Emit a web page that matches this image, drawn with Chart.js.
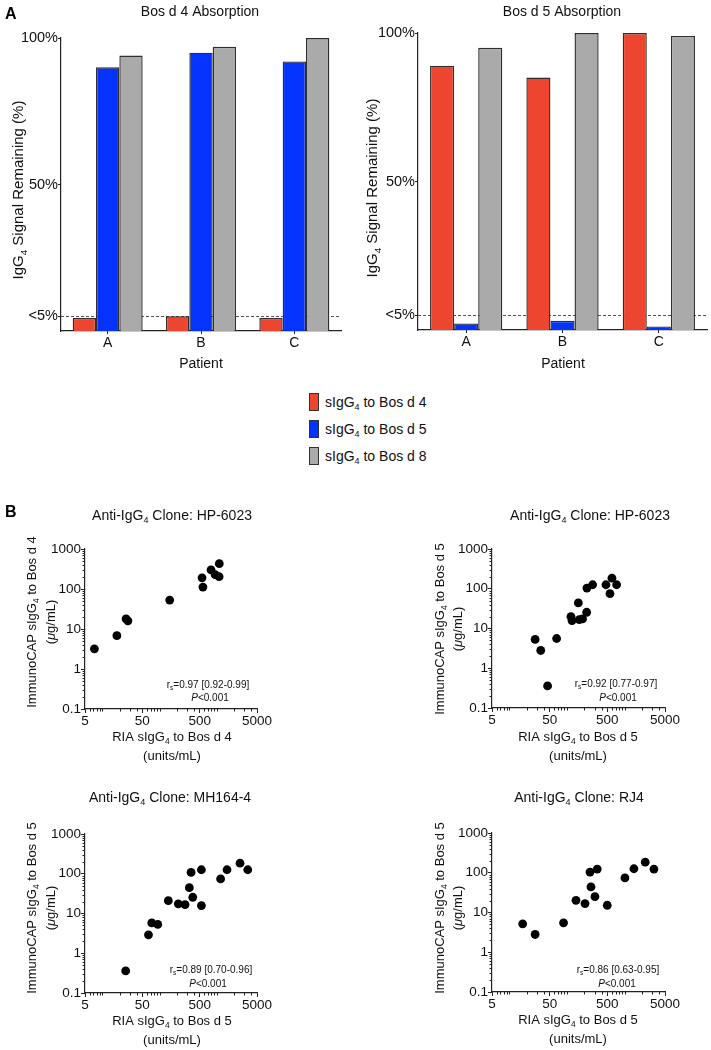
<!DOCTYPE html>
<html><head><meta charset="utf-8">
<script src="https://cdn.jsdelivr.net/npm/chart.js"></script>
<style>
html,body{margin:0;padding:0;background:#fff}
body{width:711px;height:1050px;position:relative;overflow:hidden;font-family:"Liberation Sans",Arial,Helvetica,sans-serif}
canvas{position:absolute}
#legend{position:absolute;left:309px;top:393px}
.lrow{position:relative;height:27px;width:200px}
.lbox{position:absolute;left:0;top:0;width:10px;height:18px;border:1px solid #333;box-sizing:border-box}
.ltxt{position:absolute;left:16px;top:0;font-size:14px;line-height:18px;white-space:nowrap;color:#111}
.ltxt sub{font-size:9px;vertical-align:-3px;line-height:0}
</style></head>
<body>
<canvas id="barA" width="355" height="375" style="left:0;top:0"></canvas>
<canvas id="barB" width="356" height="375" style="left:355px;top:0"></canvas>
<div id="legend"></div>
<canvas id="sc1" width="355" height="275" style="left:0;top:500px"></canvas>
<canvas id="sc2" width="356" height="275" style="left:355px;top:500px"></canvas>
<canvas id="sc3" width="355" height="270" style="left:0;top:780px"></canvas>
<canvas id="sc4" width="356" height="270" style="left:355px;top:780px"></canvas>
<script>
// ---------------- DATA ----------------
const patients = ['A', 'B', 'C'];
const seriesLabels = ['sIgG{4} to Bos d 4', 'sIgG{4} to Bos d 5', 'sIgG{4} to Bos d 8'];
const barYTicks = [5, 50, 100];

// Panel A-left: Bos d 4 absorption (% signal remaining)
const absD4_toBosd4 = [4.4, 5, 4.4];
const absD4_toBosd5 = [90, 95, 92];
const absD4_toBosd8 = [94, 97, 100];
// Panel A-right: Bos d 5 absorption
const absD5_toBosd4 = [89, 85, 100];
const absD5_toBosd5 = [2.2, 3.1, 1.2];
const absD5_toBosd8 = [95, 100, 99];

const scXTicks = [5, 50, 500, 5000];
const scYTicks = [0.1, 1, 10, 100, 1000];

// Panel B1: HP-6023, Bos d 4
const hp_d4_ria = [7.3, 18, 26, 28, 150, 550, 570, 790, 930, 1100, 1090];
const hp_d4_cap = [3.2, 6.8, 18, 16, 53, 190, 112, 300, 228, 430, 203];
// Panel B2: HP-6023, Bos d 5
const hp_d5_ria = [28, 35, 46, 66, 117, 122, 157, 163, 186, 221, 219, 278, 473, 555, 601, 725];
const hp_d5_cap = [5.3, 2.8, 0.36, 5.6, 20, 15.8, 44, 16.8, 17.4, 104, 25.6, 126, 126, 75, 185, 126];
// Panel B3: MH164-4, Bos d 5
const mh_d5_ria = [25.6, 64, 73, 93, 142, 212, 278, 330, 354, 379, 536, 536, 1160, 1500, 2530, 3450];
const mh_d5_cap = [0.36, 2.9, 5.8, 5.3, 21, 17.5, 16.8, 44.7, 108, 25.6, 126, 15.8, 74, 126, 185, 126];
// Panel B4: RJ4, Bos d 5
const rj_d5_ria = [17, 28, 87, 143, 205, 250, 260, 305, 334, 498, 1010, 1445, 2270, 3215];
const rj_d5_cap = [5.2, 2.8, 5.5, 20.3, 16.8, 104, 44, 25, 124, 15.2, 74, 126, 185, 124];

// ---------------- STYLE ----------------
const FAM = '"Liberation Sans", Arial, Helvetica, sans-serif';
const RED = '#EC4530', BLUE = '#0433FF', GREY = '#AAAAAA';
const seriesColors = [RED, BLUE, GREY];
const AXIS = '#222', TXT = '#111';

function parseRich(s){
  const out=[]; const re=/\{([^}]*)\}|\*([^*]*)\*|([^{*]+)/g; let m;
  while((m=re.exec(s))){
    if(m[1]!==undefined) out.push({t:m[1],sub:true});
    else if(m[2]!==undefined) out.push({t:m[2],it:true});
    else out.push({t:m[3]});
  }
  return out;
}
function drawRich(ctx, it){
  const size = it.size, parts = parseRich(it.s);
  const fontFor = p => (p.it?'italic ':'') + (it.bold?'bold ':'') + (p.sub? size*0.65 : size) + 'px ' + FAM;
  ctx.save();
  ctx.translate(it.x, it.y);
  if (it.rot) ctx.rotate(-Math.PI/2);
  let w = 0;
  parts.forEach(p => { ctx.font = fontFor(p); p.w = ctx.measureText(p.t).width; w += p.w; });
  let cx = it.align==='left' ? 0 : (it.align==='right' ? -w : -w/2);
  ctx.textAlign='left'; ctx.textBaseline='alphabetic'; ctx.fillStyle = it.color || TXT;
  const base = size*0.36;
  parts.forEach(p => { ctx.font = fontFor(p); ctx.fillText(p.t, cx, base + (p.sub ? size*0.22 : 0)); cx += p.w; });
  ctx.restore();
}
function textPlugin(items){
  return { id:'richText', afterDraw(chart){ items.forEach(it => drawRich(chart.ctx, it)); } };
}
const dashPlugin = {
  id:'dash5',
  beforeDatasetsDraw(chart){
    const ctx=chart.ctx, a=chart.chartArea, y=Math.round(chart.scales.y.getPixelForValue(5))+0.5;
    ctx.save(); ctx.strokeStyle='#555'; ctx.lineWidth=1; ctx.setLineDash([3,2]);
    ctx.beginPath(); ctx.moveTo(a.left, y); ctx.lineTo(a.right, y); ctx.stroke(); ctx.restore();
  }
};
const minorTicks = {
  id:'minorTicks',
  afterDraw(chart){
    const ctx=chart.ctx; ctx.save(); ctx.strokeStyle=AXIS; ctx.lineWidth=1;
    ['x','y'].forEach(id=>{
      const s=chart.scales[id]; const majors=s.ticks.map(t=>t.value);
      for(let n=Math.floor(Math.log10(s.min)); n<=Math.ceil(Math.log10(s.max)); n++){
        for(let k=1;k<10;k++){
          const v=k*Math.pow(10,n);
          if(v<s.min*0.999||v>s.max*1.001) continue;
          if(majors.some(m=>Math.abs(m-v)/m<1e-6)) continue;
          const p=Math.round(s.getPixelForValue(v))+0.5;
          ctx.beginPath();
          if(id==='x'){ ctx.moveTo(p, s.top); ctx.lineTo(p, s.top+2.5); }
          else { ctx.moveTo(s.right, p); ctx.lineTo(s.right-2.5, p); }
          ctx.stroke();
        }
      }
    });
    ctx.restore();
  }
};

function axisCommon(tickLen){
  return {
    grid:{display:true, drawOnChartArea:false, drawTicks:true, tickLength:tickLen, color:AXIS, tickColor:AXIS, lineWidth:1, offset:false},
    border:{display:true, color:AXIS, width:1.2}
  };
}

function barChart(id, W, H, area, vals, texts){
  const YW=40, XH=25;
  const datasets = vals.map((d,i)=>({
    label: seriesLabels[i], data: d, backgroundColor: seriesColors[i],
    borderColor:'#2e2e2e', borderWidth:1.4, categoryPercentage:0.75, barPercentage:1.0
  }));
  return new Chart(document.getElementById(id), {
    type:'bar',
    data:{labels:patients, datasets},
    options:{
      responsive:false, animation:false, events:[],
      layout:{padding:{left:area.l-YW, top:area.t, right:W-area.r, bottom:H-area.b-XH}},
      plugins:{legend:{display:false}, tooltip:{enabled:false}, title:{display:false}},
      scales:{
        x:{...axisCommon(3),
           ticks:{font:{family:FAM,size:14}, color:TXT, padding:1, maxRotation:0},
           afterFit(s){ s.height=XH; }},
        y:{...axisCommon(3), min:0, max:100,
           afterBuildTicks(s){ s.ticks = barYTicks.map(v=>({value:v})); },
           ticks:{font:{family:FAM,size:14.5}, color:TXT, padding:0, callback:v=> v===5 ? '<5%' : v+'%'},
           afterFit(s){ s.width=YW; }}
      }
    },
    plugins:[dashPlugin, textPlugin(texts)]
  });
}

function scatterChart(id, W, H, area, xs, ys, texts){
  const YW=40, XH=22;
  return new Chart(document.getElementById(id), {
    type:'scatter',
    data:{datasets:[{data: xs.map((x,i)=>({x, y:ys[i]})), backgroundColor:'#000', borderColor:'#000',
                     pointRadius:4.4, pointBorderWidth:0}]},
    options:{
      responsive:false, animation:false, events:[],
      layout:{padding:{left:area.l-YW, top:area.t, right:W-area.r, bottom:H-area.b-XH}},
      plugins:{legend:{display:false}, tooltip:{enabled:false}},
      scales:{
        x:{type:'logarithmic', min:5, max:5000, ...axisCommon(4),
           afterBuildTicks(s){ s.ticks = scXTicks.map(v=>({value:v, major:true})); },
           ticks:{font:{family:FAM,size:13.5}, color:TXT, padding:0, autoSkip:false, maxRotation:0, minRotation:0, callback:v=>String(v)},
           afterFit(s){ s.height=XH; }},
        y:{type:'logarithmic', min:0.1, max:1000, ...axisCommon(4),
           afterBuildTicks(s){ s.ticks = scYTicks.map(v=>({value:v, major:true})); },
           ticks:{font:{family:FAM,size:13.5}, color:TXT, padding:0, autoSkip:false, callback:v=>String(v)},
           afterFit(s){ s.width=YW; }}
      }
    },
    plugins:[minorTicks, textPlugin(texts)]
  });
}

// ---------------- BUILD ----------------
barChart('barA', 355, 375, {l:61, t:38, r:341, b:331},
  [absD4_toBosd4, absD4_toBosd5, absD4_toBosd8],
  [
    {s:'A', x:5, y:13.5, size:16, bold:true, align:'left', color:'#000'},
    {s:'Bos d 4 Absorption', x:200, y:11, size:14},
    {s:'IgG{4} Signal Remaining (%)', x:18, y:190, size:15, rot:true},
    {s:'Patient', x:201, y:363, size:14}
  ]);
barChart('barB', 356, 375, {l:63, t:33, r:352, b:330},
  [absD5_toBosd4, absD5_toBosd5, absD5_toBosd8],
  [
    {s:'Bos d 5 Absorption', x:207, y:11, size:14},
    {s:'IgG{4} Signal Remaining (%)', x:17, y:188, size:15, rot:true},
    {s:'Patient', x:208, y:363, size:14}
  ]);

// legend built from the series arrays
const legendEl = document.getElementById('legend');
seriesLabels.forEach((lab,i)=>{
  const row=document.createElement('div'); row.className='lrow';
  row.innerHTML = '<span class="lbox" style="background:'+seriesColors[i]+'"></span><span class="ltxt">' +
    lab.replace(/\{(.*?)\}/g,'<sub>$1</sub>') + '</span>';
  legendEl.appendChild(row);
});

scatterChart('sc1', 355, 275, {l:85, t:49, r:257, b:209}, hp_d4_ria, hp_d4_cap, [
  {s:'B', x:5, y:11, size:16, bold:true, align:'left', color:'#000'},
  {s:'Anti-IgG{4} Clone: HP-6023', x:172, y:15, size:14},
  {s:'ImmunoCAP sIgG{4} to Bos d 4', x:31, y:122, size:13, rot:true},
  {s:'(*μ*g/mL)', x:50, y:122, size:13, rot:true},
  {s:'RIA sIgG{4} to Bos d 4', x:172, y:236, size:13},
  {s:'(units/mL)', x:172, y:255, size:13},
  {s:'r{s}=0.97 [0.92-0.99]', x:208, y:184, size:10},
  {s:'*P*<0.001', x:210, y:197, size:10}
]);
scatterChart('sc2', 356, 275, {l:137, t:49, r:310, b:208}, hp_d5_ria, hp_d5_cap, [
  {s:'Anti-IgG{4} Clone: HP-6023', x:235, y:15, size:14},
  {s:'ImmunoCAP sIgG{4} to Bos d 5', x:84, y:129, size:13, rot:true},
  {s:'(*μ*g/mL)', x:102, y:129, size:13, rot:true},
  {s:'RIA sIgG{4} to Bos d 5', x:223, y:236, size:13},
  {s:'(units/mL)', x:223, y:255, size:13},
  {s:'r{s}=0.92 [0.77-0.97]', x:261, y:183, size:10},
  {s:'*P*<0.001', x:263, y:197, size:10}
]);
scatterChart('sc3', 355, 270, {l:85, t:54, r:257, b:213}, mh_d5_ria, mh_d5_cap, [
  {s:'Anti-IgG{4} Clone: MH164-4', x:170, y:17, size:14},
  {s:'ImmunoCAP sIgG{4} to Bos d 5', x:31, y:128, size:13, rot:true},
  {s:'(*μ*g/mL)', x:50, y:128, size:13, rot:true},
  {s:'RIA sIgG{4} to Bos d 5', x:172, y:240, size:13},
  {s:'(units/mL)', x:172, y:259, size:13},
  {s:'r{s}=0.89 [0.70-0.96]', x:211, y:189, size:10},
  {s:'*P*<0.001', x:208, y:203, size:10}
]);
scatterChart('sc4', 356, 270, {l:137, t:53, r:310, b:212}, rj_d5_ria, rj_d5_cap, [
  {s:'Anti-IgG{4} Clone: RJ4', x:224, y:17, size:14},
  {s:'ImmunoCAP sIgG{4} to Bos d 5', x:84, y:128, size:13, rot:true},
  {s:'(*μ*g/mL)', x:102, y:128, size:13, rot:true},
  {s:'RIA sIgG{4} to Bos d 5', x:223, y:239, size:13},
  {s:'(units/mL)', x:223, y:258, size:13},
  {s:'r{s}=0.86 [0.63-0.95]', x:263, y:189, size:10},
  {s:'*P*<0.001', x:262, y:203, size:10}
]);
</script>
</body></html>
